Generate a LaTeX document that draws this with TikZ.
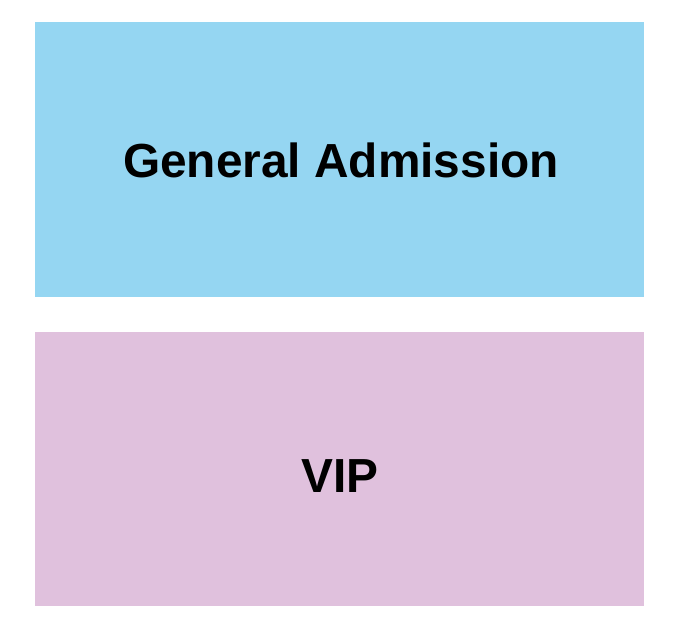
\documentclass[tikz,border=0pt]{standalone}
\usepackage{fontspec}
\setmainfont{Liberation Sans}
\definecolor{gablue}{HTML}{95D6F2}
\definecolor{vippink}{HTML}{E0C1DD}
\tikzset{
  zone/.style={draw=none, inner sep=0pt, anchor=north west},
  zonelabel/.style={font=\fontsize{48}{48}\selectfont\bfseries, text=black, inner sep=0pt, anchor=base}
}
\begin{document}
\begin{tikzpicture}[x=1bp,y=-1bp]
\useasboundingbox (0,0) rectangle (674,631);
\fill[white] (0,0) rectangle (674,631);
\node[zone, fill=gablue, minimum width=609bp, minimum height=275bp] (ga) at (35,22) {};
\node[zone, fill=vippink, minimum width=609bp, minimum height=274bp] (vip) at (35,332) {};
\node[zonelabel] (galabel) at (341,177.5) {General Admission};
\node[zonelabel] (viplabel) at (340,492.5) {VIP};
\end{tikzpicture}
\end{document}
